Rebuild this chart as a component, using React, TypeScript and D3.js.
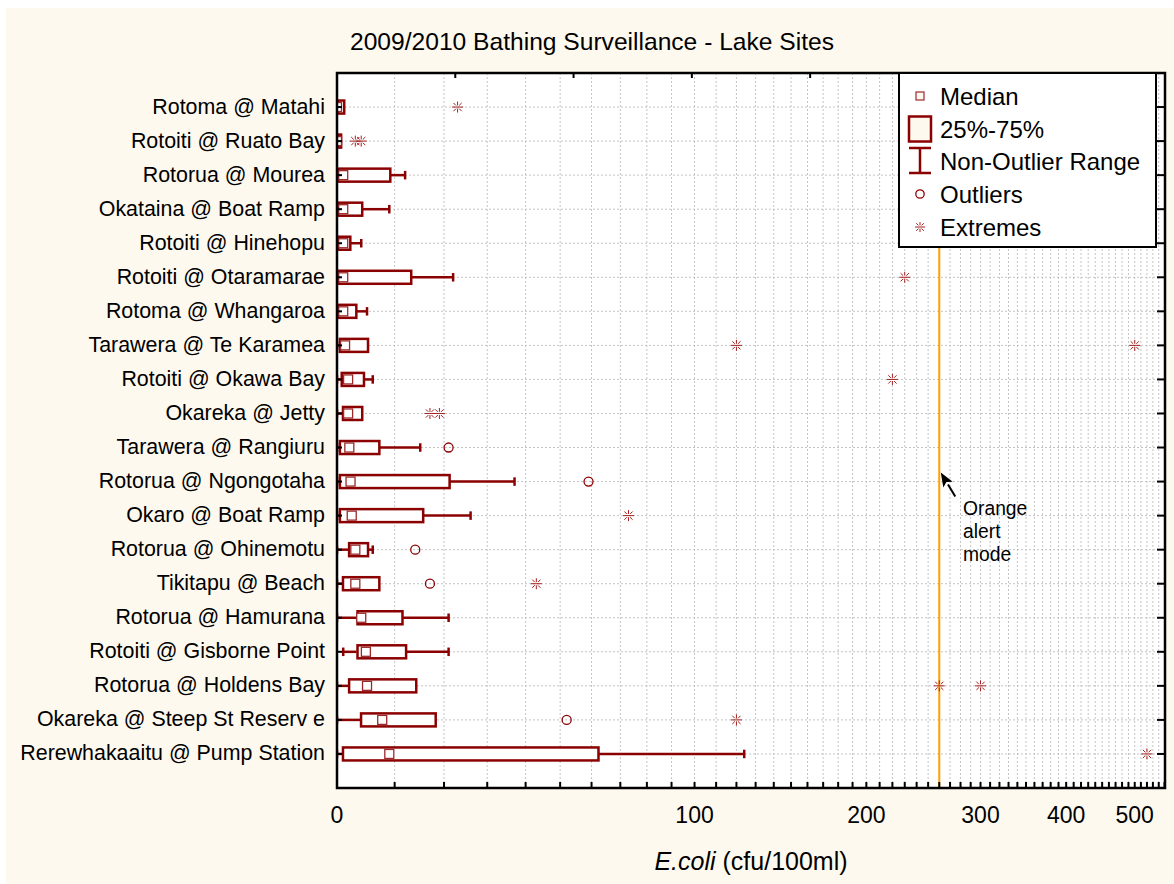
import React from "react";
import * as d3 from "d3";

// Bathing-site E. coli summaries (cfu/100ml), one entry per site
const SITES = [
  "Rotoma @ Matahi",
  "Rotoiti @ Ruato Bay",
  "Rotorua @ Mourea",
  "Okataina @ Boat Ramp",
  "Rotoiti @ Hinehopu",
  "Rotoiti @ Otaramarae",
  "Rotoma @ Whangaroa",
  "Tarawera @ Te Karamea",
  "Rotoiti @ Okawa Bay",
  "Okareka @ Jetty",
  "Tarawera @ Rangiuru",
  "Rotorua @ Ngongotaha",
  "Okaro @ Boat Ramp",
  "Rotorua @ Ohinemotu",
  "Tikitapu @ Beach",
  "Rotorua @ Hamurana",
  "Rotoiti @ Gisborne Point",
  "Rotorua @ Holdens Bay",
  "Okareka @ Steep St Reserv e",
  "Rerewhakaaitu @ Pump Station",
];

const LOWER = [0, 0, 0, 0, 0, 0, 0, 0, 0, 0, 0, 0, 0, 0, 0, 0, 1, 0, 0, 0];
const Q1 = [0, 0, 0, 0, 0, 0, 0, 0.3, 0.6, 0.8, 0.3, 0.3, 0.3, 1.8, 0.8, 3.2, 3.2, 1.8, 3.8, 0.8];
const MEDIAN = [0, 0, 1, 1, 1, 1, 1, 1.3, 1.8, 1.8, 2, 2.2, 2.4, 3, 3, 4, 4.8, 5, 7.7, 9];
const Q3 = [1, 0.5, 9, 4, 2, 13, 3, 5, 4.3, 4, 7, 21, 15.4, 5, 7, 11.3, 12, 14, 18, 62];
const UPPER = [1, 0.5, 12, 9, 4, 22, 5, 5, 6, 4, 15, 37, 26, 6, 7, 21, 21, 14, 18, 124];
const OUTLIERS: number[][] = [
  [], [], [], [], [], [], [], [], [], [],
  [21], [59], [], [14], [17], [], [], [], [52], [],
];
const EXTREMES: number[][] = [
  [23], [3, 4], [], [], [], [230], [], [120, 500], [220], [17, 19],
  [], [], [73], [], [43], [], [], [260, 300], [120], [520],
];

const X_TICK_LABELS = [0, 100, 200, 300, 400, 500];
const ALERT_LEVEL = 260;

const W = 1174;
const H = 884;
const FONT = "'Liberation Sans', Arial, Helvetica, sans-serif";
const RED = "#8b0000";
const STAR = "#a52020";
const CREAM = "#fef9ef";
const GRID = "#c4c4c4";

const plot = { left: 337, right: 1165, top: 73, bottom: 788 };

const x = d3.scaleSymlog().constant(55).domain([0, 550]).range([plot.left, 1164.5]);
const y = d3.scalePoint<string>().domain(SITES).range([plot.top, plot.bottom]).padding(1);
const topAxis = d3.scaleLinear().domain([0, 7]).range([plot.left, plot.right]);

const minorTicks = d3.range(10, 551, 10);

// asterisk marker: horizontal bar plus split vertical and diagonal strokes
function starPath(cx: number, cy: number, r: number) {
  const d = r * 0.75;
  const g = 1.6;
  return [
    `M${cx - r},${cy}H${cx + r}`,
    `M${cx},${cy - r}V${cy - g}M${cx},${cy + g}V${cy + r}`,
    `M${cx - d},${cy - d}L${cx - g},${cy - g}M${cx + g},${cy + g}L${cx + d},${cy + d}`,
    `M${cx - d},${cy + d}L${cx - g},${cy + g}M${cx + g},${cy - g}L${cx + d},${cy - d}`,
  ].join("");
}

export default function App() {
  const boxH = 13;
  const capH = 8.5;
  const medS = 9;

  const alertX = x(ALERT_LEVEL);
  const tipY = (y("Rotorua @ Ngongotaha") as number) - 9;
  const tip = { x: alertX + 1.5, y: tipY };
  const tail = { x: alertX + 16, y: tipY + 24 };
  const dx = tip.x - tail.x;
  const dy = tip.y - tail.y;
  const len = Math.hypot(dx, dy);
  const ux = dx / len;
  const uy = dy / len;
  const headL = 14;
  const headW = 5.5;
  const bx = tip.x - ux * headL;
  const by = tip.y - uy * headL;
  const arrowHead = `M${tip.x},${tip.y}L${bx - uy * headW},${by + ux * headW}L${bx + ux * 3},${by + uy * 3}L${bx + uy * headW},${by - ux * headW}Z`;

  const legendX = 899;
  const legendY = plot.top;
  const legendW = 257;
  const legendH = 174;
  const lgIcon = 920;
  const lgText = 940;
  const lgRows = [96, 129, 161, 194, 227];

  return (
    <svg
      width={W}
      height={H}
      style={{ position: "absolute", left: 0, top: 0, fontFamily: FONT }}
    >
      <defs>
        <clipPath id="plot-clip">
          <rect x={plot.left} y={plot.top} width={plot.right - plot.left} height={plot.bottom - plot.top} />
        </clipPath>
      </defs>
      <rect x={0} y={0} width={W} height={H} fill="#ffffff" />
      <rect x={6} y={8} width={W - 6} height={H - 8} fill={CREAM} />

      {/* plot area */}
      <rect x={plot.left} y={plot.top} width={plot.right - plot.left} height={plot.bottom - plot.top} fill="#ffffff" />

      {/* grid */}
      <g stroke={GRID} strokeWidth={1} strokeDasharray="2,2">
        {minorTicks.map((t) => (
          <line key={`gv${t}`} x1={x(t)} x2={x(t)} y1={plot.top} y2={plot.bottom} />
        ))}
        {SITES.map((s) => (
          <line key={`gh${s}`} x1={plot.left} x2={plot.right} y1={y(s)} y2={y(s)} />
        ))}
      </g>

      {/* alert level */}
      <line x1={alertX} x2={alertX} y1={plot.top} y2={plot.bottom} stroke="#ffa000" strokeWidth={2} />

      {/* box plots */}
      <g clipPath="url(#plot-clip)">
        {SITES.map((s, i) => {
          const cy = y(s) as number;
          const x1 = x(Q1[i]);
          const x3 = x(Q3[i]);
          const xm = x(MEDIAN[i]);
          return (
            <g key={s}>
              {UPPER[i] > Q3[i] && (
                <g stroke={RED} strokeWidth={2.5}>
                  <line x1={x3} x2={x(UPPER[i])} y1={cy} y2={cy} />
                  <line x1={x(UPPER[i])} x2={x(UPPER[i])} y1={cy - capH / 2} y2={cy + capH / 2} />
                </g>
              )}
              {LOWER[i] < Q1[i] && (
                <g stroke={RED} strokeWidth={2.5}>
                  <line x1={x(LOWER[i])} x2={x1} y1={cy} y2={cy} />
                  <line x1={x(LOWER[i])} x2={x(LOWER[i])} y1={cy - capH / 2} y2={cy + capH / 2} />
                </g>
              )}
              <rect
                x={x1 + 1}
                y={cy - boxH / 2}
                width={Math.max(x3 - x1, 2)}
                height={boxH}
                fill="#ffffff"
                stroke={RED}
                strokeWidth={2.5}
              />
              <rect
                x={xm - medS / 2}
                y={cy - medS / 2}
                width={medS}
                height={medS}
                fill="#ffffff"
                stroke="#9a2a2a"
                strokeWidth={1.3}
              />
              {OUTLIERS[i].map((v, k) => (
                <circle key={`o${k}`} cx={x(v)} cy={cy} r={4.5} fill="none" stroke={RED} strokeWidth={1.3} />
              ))}
              {EXTREMES[i].map((v, k) => (
                <path key={`e${k}`} d={starPath(x(v), cy, 5.5)} stroke={STAR} strokeWidth={1} fill="none" />
              ))}
            </g>
          );
        })}
      </g>

      {/* frame and ticks */}
      <g stroke="#000" strokeWidth={2}>
        {SITES.map((s) => (
          <g key={`t${s}`}>
            <line x1={plot.left} x2={plot.left + 5} y1={y(s)} y2={y(s)} />
            <line x1={plot.right - 8} x2={plot.right} y1={y(s)} y2={y(s)} />
          </g>
        ))}
        {minorTicks.map((t) => (
          <line key={`bt${t}`} x1={x(t)} x2={x(t)} y1={plot.bottom} y2={plot.bottom - 6} />
        ))}
        {d3.range(1, 7).map((t) => (
          <line key={`tt${t}`} x1={topAxis(t)} x2={topAxis(t)} y1={plot.top} y2={plot.top + 5} />
        ))}
      </g>
      <rect
        x={plot.left}
        y={plot.top}
        width={plot.right - plot.left}
        height={plot.bottom - plot.top}
        fill="none"
        stroke="#000"
        strokeWidth={2.5}
      />

      {/* category labels */}
      <g fontSize={21.4} fill="#000" textAnchor="end">
        {SITES.map((s) => (
          <text key={`l${s}`} x={325} y={(y(s) as number) + 6.5}>
            {s}
          </text>
        ))}
      </g>

      {/* x tick labels */}
      <g fontSize={23} fill="#000" textAnchor="middle">
        {X_TICK_LABELS.map((t) => (
          <text key={`xl${t}`} x={x(t)} y={823}>
            {t}
          </text>
        ))}
      </g>

      {/* axis title */}
      <text x={(plot.left + plot.right) / 2} y={870} fontSize={25} textAnchor="middle" fill="#000">
        <tspan fontStyle="italic">E.coli</tspan>
        <tspan> (cfu/100ml)</tspan>
      </text>

      {/* chart title */}
      <text x={592} y={50} fontSize={24.6} textAnchor="middle" fill="#000">
        2009/2010 Bathing Surveillance - Lake Sites
      </text>

      {/* legend */}
      <g>
        <rect x={legendX} y={legendY} width={legendW} height={legendH} fill="#ffffff" stroke="#000" strokeWidth={2} />
        <rect x={lgIcon - 4} y={lgRows[0] - 4} width={8} height={8} fill={CREAM} stroke="#9a2a2a" strokeWidth={1.2} />
        <rect x={lgIcon - 11} y={lgRows[1] - 12.5} width={22} height={25} fill={CREAM} stroke={RED} strokeWidth={2.5} />
        <g stroke={RED} strokeWidth={2.5}>
          <line x1={lgIcon - 11} x2={lgIcon + 11} y1={lgRows[2] - 13} y2={lgRows[2] - 13} />
          <line x1={lgIcon - 11} x2={lgIcon + 11} y1={lgRows[2] + 12} y2={lgRows[2] + 12} />
          <line x1={lgIcon} x2={lgIcon} y1={lgRows[2] - 13} y2={lgRows[2] + 12} />
        </g>
        <circle cx={lgIcon} cy={lgRows[3]} r={4.2} fill="none" stroke={RED} strokeWidth={1.3} />
        <path d={starPath(lgIcon, lgRows[4], 5)} stroke={STAR} strokeWidth={1} fill="none" />
        <g fontSize={24} fill="#000">
          {["Median", "25%-75%", "Non-Outlier Range", "Outliers", "Extremes"].map((t, k) => (
            <text key={t} x={lgText} y={lgRows[k] + 8.5}>
              {t}
            </text>
          ))}
        </g>
      </g>

      {/* alert annotation */}
      <line x1={tail.x} y1={tail.y} x2={bx} y2={by} stroke="#000" strokeWidth={2} />
      <path d={arrowHead} fill="#000" />
      <g fontSize={19.3} fill="#000">
        <text x={963} y={515}>Orange</text>
        <text x={963} y={538}>alert</text>
        <text x={963} y={561}>mode</text>
      </g>
    </svg>
  );
}
